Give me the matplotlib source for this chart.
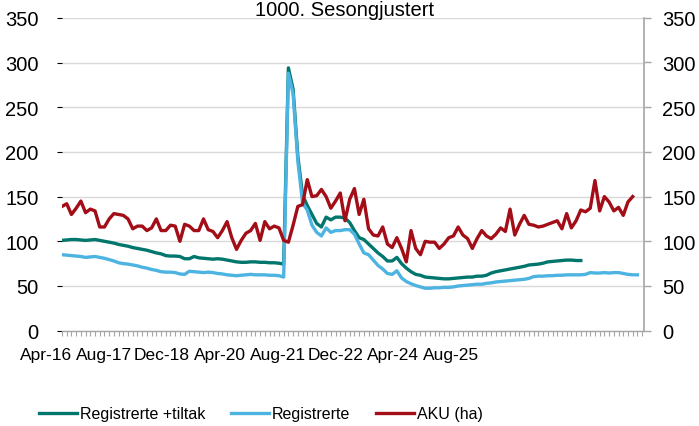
import numpy as np
import matplotlib
matplotlib.use("Agg")
import matplotlib.pyplot as plt

plt.rcParams['font.family'] = ['Liberation Sans', 'DejaVu Sans']

# monthly values, 1000 persons, first month = Apr-16
reg_tiltak = [101, 101.5, 102, 102, 101.5, 101, 101.5, 102, 101, 100,
              99, 98, 96.5, 95.5, 94.5, 93, 92, 91, 90, 88.5,
              87, 86, 84, 83.5, 83.5, 83, 80.5, 80.5, 83, 81.5,
              81, 80.5, 80, 80.5, 80, 79, 78, 77, 76.5, 76.5,
              77, 77, 76.5, 76.5, 76, 76, 75.5, 74.5, 294, 270,
              195, 152, 140, 130, 120, 116, 127, 124, 127, 127,
              126, 121, 112, 104, 102, 97, 92, 87, 83, 78,
              78, 82, 75, 70, 66, 63, 62, 60, 59.5, 59,
              58.5, 58, 58, 58.5, 59, 59.5, 60, 60, 61, 61,
              62, 64.5, 66, 67, 68, 69, 70, 71, 72, 73.5,
              74, 74.5, 75.5, 77, 77.5, 78, 78.5, 79, 79, 78.5,
              78.5]

registrerte = [85, 84.5, 84, 83.5, 83, 82, 82.5, 83, 82, 81,
               79.5, 78, 76, 75, 74.5, 73.5, 72.5, 71, 70, 68.5,
               67.5, 66, 65.5, 65.5, 65, 63.5, 63, 66.5, 66, 65.5,
               65, 65.5, 65, 64, 63.5, 62.5, 62, 61.5, 62, 62.5,
               63, 62.5, 62.5, 62.5, 62, 62, 61.5, 60, 288, 265,
               190, 143, 135, 118, 110, 106, 115, 110, 112, 112,
               113, 113, 108, 97, 87, 85, 79, 73, 69, 64,
               63, 67, 59, 55, 52.5, 50.5, 49, 47.5, 47.5, 48,
               48, 48.5, 48.5, 49, 50, 50.5, 51, 51.5, 52, 52,
               53, 53.5, 54.5, 55, 55.5, 56, 56.5, 57, 57.5, 58.5,
               60.5, 61, 61, 61.5, 61.5, 62, 62, 62.5, 62.5, 62.5,
               62.5, 63, 65, 64.5, 64.5, 65, 64.5, 65, 65, 64,
               63, 62.5, 62.5]

aku = [139, 142, 130, 137, 145, 132, 136, 134, 116, 116,
       125, 131, 130, 129, 125, 114, 117, 117, 112, 115,
       125, 112, 112, 118, 117, 100, 119, 117, 112, 112,
       125, 113, 111, 104, 112, 122, 104, 91, 101, 109,
       112, 120, 101, 122, 114, 117, 115, 101, 99, 118,
       139, 141, 169, 150, 151, 158, 150, 137, 145, 154,
       123, 147, 159, 130, 147, 114, 107, 106, 116, 97,
       93, 104, 92, 77, 112, 92, 85, 100, 99, 99,
       92, 97, 104, 106, 116, 107, 103, 92, 103, 112,
       106, 103, 108, 115, 111, 136, 107, 119, 129, 119,
       118, 116, 117, 119, 121, 123, 114, 131, 115, 123,
       135, 133, 137, 168, 134, 150, 144, 134, 138, 129,
       144, 150]

x_labels = ["Apr-16", "Aug-17", "Dec-18", "Apr-20", "Aug-21", "Dec-22", "Apr-24", "Aug-25"]
y_ticks = [0, 50, 100, 150, 200, 250, 300, 350]

c_green = "#00766C"
c_blue = "#4DB3E0"
c_red = "#A30D17"
c_grid = "#D9D9D9"
c_axis = "#A6A6A6"

fig = plt.figure(figsize=(6.99, 4.27), dpi=100)
ax = fig.add_axes([62 / 699, 1 - 331.7 / 427, 582 / 699, 312.9 / 427])

ax.plot(np.arange(len(reg_tiltak)), reg_tiltak, color=c_green, lw=2.4,
        label="Registrerte +tiltak", solid_joinstyle="round", zorder=3)
ax.plot(np.arange(len(registrerte)), registrerte, color=c_blue, lw=2.4,
        label="Registrerte", solid_joinstyle="round", zorder=4)
ax.plot(np.arange(len(aku)), aku, color=c_red, lw=2.4,
        label="AKU (ha)", solid_joinstyle="round", zorder=5)

ax.set_xlim(0, 123.4)
ax.set_ylim(0, 350)
ax.set_yticks(y_ticks)
ax.grid(axis="y", color=c_grid, lw=1.0, zorder=0)
ax.set_axisbelow(True)

for s in ["top", "left", "right"]:
    ax.spines[s].set_visible(False)
ax.spines["bottom"].set_color(c_axis)
ax.spines["bottom"].set_linewidth(1.0)

ax.tick_params(axis="y", left=False, labelsize=14.5, pad=13.5, colors="black")
ax.set_xticks([])
ax.set_xticks(np.arange(0, 124), minor=True)
ax.tick_params(axis="x", which="minor", direction="out", length=3.3,
               width=0.8, color=c_axis)

# category labels as drawn in the original (spaced every 16 months)
label_step = 12.26
for k, lab in enumerate(x_labels):
    ax.text(-3.3 + k * label_step, -0.0745, lab, transform=ax.get_xaxis_transform(),
            ha="center", va="center", fontsize=12.5, clip_on=False)

ax2 = ax.twinx()
ax2.set_ylim(0, 350)
ax2.set_yticks(y_ticks)
for s in ["top", "left", "bottom"]:
    ax2.spines[s].set_visible(False)
ax2.spines["right"].set_color(c_axis)
ax2.spines["right"].set_linewidth(1.2)
ax2.tick_params(axis="y", direction="out", length=4.8, width=1.0,
                color=c_axis, labelsize=14.5, pad=8.5, labelcolor="black")

fig.text(345 / 699, 1 - 10 / 427, "1000. Sesongjustert", ha="center",
         va="center", fontsize=14.5)

fig.legend(loc="center", bbox_to_anchor=(261 / 699, 1 - 415 / 427), ncol=3,
           frameon=False, fontsize=11.5, handlelength=2.4, handletextpad=0.18,
           columnspacing=1.6, borderaxespad=0)

fig.savefig("out.png", dpi=100)
